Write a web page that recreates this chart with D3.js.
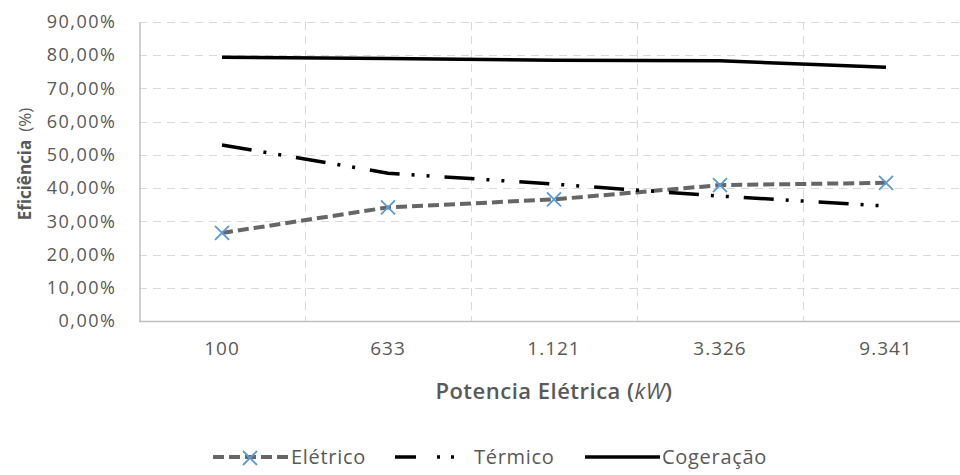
<!DOCTYPE html>
<html>
<head>
<meta charset="utf-8">
<script src="https://cdnjs.cloudflare.com/ajax/libs/d3/7.8.5/d3.min.js"></script>
<style>
  body { margin: 0; background: #fff; }
  text { font-family: "Open Sans", "Noto Sans", sans-serif; fill: #595959; }
</style>
</head>
<body>
<svg id="chart" width="960" height="475"></svg>
<script>
// potencia eletrica (kW) and efficiencies
var potencia = [100, 633, 1121, 3326, 9341];
var eletrico = [0.265, 0.342, 0.366, 0.409, 0.416];
var termico = [0.530, 0.445, 0.412, 0.376, 0.346];
var cogeracao = [0.794, 0.790, 0.785, 0.783, 0.764];
var yTicks = [0, 0.1, 0.2, 0.3, 0.4, 0.5, 0.6, 0.7, 0.8, 0.9];
var seriesNames = ["Elétrico", "Térmico", "Cogeração"];

var pt = d3.formatLocale({decimal: ",", thousands: ".", grouping: [3], currency: ["R$", ""]});
var fmtPct = pt.format(".2%");
var fmtNum = pt.format(",");

var svg = d3.select("#chart");
var pLeft = 139, pTop = 22, pBottom = 321, pRight = 960;

var x = d3.scaleBand().domain(potencia).range([pLeft, pLeft + 830]).padding(0);
var y = d3.scaleLinear().domain([0, 0.9]).range([pBottom, pTop]);

// gridlines
svg.append("g").selectAll("line").data(yTicks.slice(1)).enter().append("line")
  .attr("x1", pLeft).attr("x2", pRight)
  .attr("y1", function(d){ return Math.round(y(d)) + 0.5; })
  .attr("y2", function(d){ return Math.round(y(d)) + 0.5; })
  .attr("stroke", "#d9d9d9").attr("stroke-width", 1).attr("stroke-dasharray", "8 6");
svg.append("g").selectAll("line").data(potencia.slice(1)).enter().append("line")
  .attr("x1", function(d){ return Math.round(x(d)) + 0.5; })
  .attr("x2", function(d){ return Math.round(x(d)) + 0.5; })
  .attr("y1", pTop).attr("y2", pBottom)
  .attr("stroke", "#d9d9d9").attr("stroke-width", 1).attr("stroke-dasharray", "8 6");

// axes
var yAxis = svg.append("g").attr("transform", "translate(" + (pLeft + 0.5) + ",0)")
  .call(d3.axisLeft(y).tickValues(yTicks).tickFormat(fmtPct).tickSize(0).tickPadding(23));
yAxis.select(".domain").attr("stroke", "#bfbfbf").attr("stroke-width", 1.5);
yAxis.selectAll("text").style("font-size", "18px").style("letter-spacing", "1.5px").attr("fill", "#595959");

var xAxis = svg.append("g").attr("transform", "translate(0," + (pBottom + 0.5) + ")")
  .call(d3.axisBottom(x).tickFormat(fmtNum).tickSize(0).tickPadding(20));
xAxis.select(".domain").attr("stroke", "#bfbfbf").attr("stroke-width", 1.5).attr("d", "M" + pLeft + ",0H" + pRight);
xAxis.selectAll("text").style("font-size", "19px").style("letter-spacing", "1px").attr("fill", "#595959");

// axis titles
var xt = svg.append("text").attr("x", 554).attr("y", 399).attr("text-anchor", "middle")
  .style("font-size", "22px").style("font-weight", "600").style("letter-spacing", "0.5px");
xt.append("tspan").text("Potencia Elétrica (");
xt.append("tspan").style("font-style", "italic").style("font-weight", "400").text("kW");
xt.append("tspan").text(")");

var yt = svg.append("text").attr("transform", "translate(31,164) rotate(-90)").attr("text-anchor", "middle")
  .style("font-size", "17px");
yt.append("tspan").style("font-weight", "700").text("Eficiência");
yt.append("tspan").attr("dx", 8).text("(%)");

// series
var cx = function(d, i){ return x(potencia[i]) + x.bandwidth() / 2; };
var line = d3.line().x(cx).y(function(d){ return y(d); });

var styles = [
  {data: eletrico, stroke: "#666666", width: 4, dash: "11 5"},
  {data: termico, stroke: "#000000", width: 3.5, dash: "30 12 3 12 3 15"},
  {data: cogeracao, stroke: "#000000", width: 3.5, dash: null}
];

styles.forEach(function(s){
  svg.append("path").datum(s.data).attr("d", line)
    .attr("fill", "none").attr("stroke", s.stroke).attr("stroke-width", s.width)
    .attr("stroke-dasharray", s.dash);
});

var cross = function(g, px, py, r){
  g.append("path")
    .attr("d", "M" + (px - r) + "," + (py - r) + "L" + (px + r) + "," + (py + r) +
               "M" + (px - r) + "," + (py + r) + "L" + (px + r) + "," + (py - r))
    .attr("stroke", "#5b9bd5").attr("stroke-width", 1.8).attr("fill", "none");
};
var markers = svg.append("g");
eletrico.forEach(function(d, i){ cross(markers, cx(d, i), y(d), 7); });

// legend
var legX = [213, 395, 585];
var legTx = [291, 474, 662];
var legY = 457;
var leg = svg.append("g");
styles.forEach(function(s, i){
  leg.append("line").attr("x1", legX[i]).attr("x2", legX[i] + 75)
    .attr("y1", legY).attr("y2", legY)
    .attr("stroke", s.stroke).attr("stroke-width", s.width)
    .attr("stroke-dasharray", i == 1 ? "21 21 3 11 3 30" : s.dash);
  if (i == 0) cross(leg, legX[i] + 37, legY + 1, 7);
  leg.append("text").attr("x", legTx[i]).attr("y", legY + 7)
    .style("font-size", "20px").style("letter-spacing", "0.7px").text(seriesNames[i]);
});
</script>
</body>
</html>
